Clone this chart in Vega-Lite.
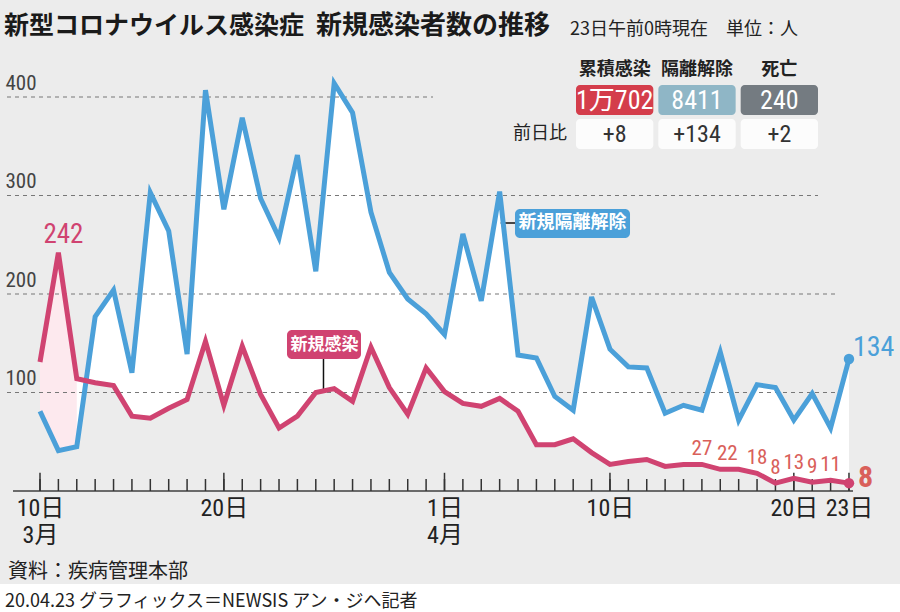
{
  "$schema": "https://vega.github.io/schema/vega-lite/v6.json",
  "width": 900,
  "height": 584,
  "autosize": {"type": "none"},
  "padding": {"left": 0, "top": 0, "right": 0, "bottom": 28},
  "background": "#ffffff",
  "config": {"view": {"fill": "#ececec", "stroke": null}},
  "datasets": {
    "table": [
      {"col": "累積感染", "row": "value", "text": "1万702"},
      {"col": "隔離解除", "row": "value", "text": "8411"},
      {"col": "死亡", "row": "value", "text": "240"},
      {"col": "累積感染", "row": "diff", "text": "+8"},
      {"col": "隔離解除", "row": "diff", "text": "+134"},
      {"col": "死亡", "row": "diff", "text": "+2"}
    ]
  },
  "resolve": {"scale": {"x": "independent", "y": "independent", "color": "independent"}},
  "layer": [
    {
      "data": {
        "values": [
          {"date": "2020-03-10", "cases": 131, "released": 81},
          {"date": "2020-03-11", "cases": 242, "released": 41},
          {"date": "2020-03-12", "cases": 114, "released": 45},
          {"date": "2020-03-13", "cases": 110, "released": 177},
          {"date": "2020-03-14", "cases": 107, "released": 204},
          {"date": "2020-03-15", "cases": 76, "released": 120},
          {"date": "2020-03-16", "cases": 74, "released": 303},
          {"date": "2020-03-17", "cases": 84, "released": 264},
          {"date": "2020-03-18", "cases": 93, "released": 139},
          {"date": "2020-03-19", "cases": 152, "released": 407},
          {"date": "2020-03-20", "cases": 87, "released": 286},
          {"date": "2020-03-21", "cases": 147, "released": 379},
          {"date": "2020-03-22", "cases": 98, "released": 297},
          {"date": "2020-03-23", "cases": 64, "released": 257},
          {"date": "2020-03-24", "cases": 76, "released": 341},
          {"date": "2020-03-25", "cases": 100, "released": 223},
          {"date": "2020-03-26", "cases": 104, "released": 414},
          {"date": "2020-03-27", "cases": 91, "released": 384},
          {"date": "2020-03-28", "cases": 146, "released": 283},
          {"date": "2020-03-29", "cases": 105, "released": 222},
          {"date": "2020-03-30", "cases": 78, "released": 195},
          {"date": "2020-03-31", "cases": 125, "released": 180},
          {"date": "2020-04-01", "cases": 101, "released": 159},
          {"date": "2020-04-02", "cases": 89, "released": 261},
          {"date": "2020-04-03", "cases": 86, "released": 193},
          {"date": "2020-04-04", "cases": 94, "released": 304},
          {"date": "2020-04-05", "cases": 81, "released": 138},
          {"date": "2020-04-06", "cases": 47, "released": 135},
          {"date": "2020-04-07", "cases": 47, "released": 96},
          {"date": "2020-04-08", "cases": 53, "released": 82},
          {"date": "2020-04-09", "cases": 39, "released": 197},
          {"date": "2020-04-10", "cases": 27, "released": 144},
          {"date": "2020-04-11", "cases": 30, "released": 126},
          {"date": "2020-04-12", "cases": 32, "released": 125},
          {"date": "2020-04-13", "cases": 25, "released": 79},
          {"date": "2020-04-14", "cases": 27, "released": 87},
          {"date": "2020-04-15", "cases": 27, "released": 82},
          {"date": "2020-04-16", "cases": 22, "released": 141},
          {"date": "2020-04-17", "cases": 22, "released": 72},
          {"date": "2020-04-18", "cases": 18, "released": 108},
          {"date": "2020-04-19", "cases": 8, "released": 105},
          {"date": "2020-04-20", "cases": 13, "released": 72},
          {"date": "2020-04-21", "cases": 9, "released": 99},
          {"date": "2020-04-22", "cases": 11, "released": 64},
          {"date": "2020-04-23", "cases": 8, "released": 134}
        ],
        "format": {"parse": {"date": "date"}}
      },
      "layer": [
        {
          "mark": {"type": "area", "color": "#ffffff", "opacity": 1},
          "encoding": {
            "x": {
              "field": "date", "type": "temporal",
              "scale": {
                "type": "utc", "nice": false,
                "domain": [
                  {"year": 2020, "month": 3, "date": 7, "hours": 19, "minutes": 47, "utc": true},
                  {"year": 2020, "month": 4, "date": 25, "hours": 18, "minutes": 36, "utc": true}
                ]
              },
              "axis": {
                "title": null, "orient": "bottom", "offset": -94,
                "domain": false, "ticks": false, "tickSize": 0, "grid": false,
                "values": [
                  {"year": 2020, "month": 3, "date": 10, "utc": true},
                  {"year": 2020, "month": 3, "date": 20, "utc": true},
                  {"year": 2020, "month": 4, "date": 1, "utc": true},
                  {"year": 2020, "month": 4, "date": 10, "utc": true},
                  {"year": 2020, "month": 4, "date": 20, "utc": true},
                  {"year": 2020, "month": 4, "date": 23, "utc": true}
                ],
                "labelExpr": "utcmonth(datum.value) == 2 && utcdate(datum.value) == 10 ? ['10日', '3月'] : (utcmonth(datum.value) == 3 && utcdate(datum.value) == 1 ? ['1日', '4月'] : utcdate(datum.value) + '日')",
                "labelBaseline": "top", "labelPadding": 6, "labelLineHeight": 27,
                "labelFont": "Roboto Condensed, DejaVu Sans Condensed, Liberation Sans Narrow, Noto Sans CJK JP, sans-serif",
                "labelFontSize": 24, "labelColor": "#222222",
                "labelOverlap": false, "labelFlush": false, "labelBound": false
              }
            },
            "y": {
              "field": "released", "type": "quantitative",
              "scale": {"domain": [-94.4, 498.5], "nice": false, "zero": false},
              "axis": {
                "title": null, "values": [100, 200, 300, 400],
                "domain": false, "ticks": false, "tickSize": 0, "grid": false,
                "labelAlign": "left", "labelBaseline": "alphabetic",
                "labelPadding": -5, "labelOffset": -8,
                "labelFont": "Roboto Condensed, DejaVu Sans Condensed, Liberation Sans Narrow, Noto Sans CJK JP, sans-serif",
                "labelFontSize": 21, "labelColor": "#444444"
              }
            },
            "y2": {"field": "cases"}
          }
        },
        {
          "transform": [{"filter": "datum.released < datum.cases"}],
          "mark": {"type": "area", "color": "#fde9ee", "opacity": 1},
          "encoding": {
            "x": {"field": "date", "type": "temporal"},
            "y": {"field": "cases", "type": "quantitative"},
            "y2": {"field": "released"}
          }
        },
        {
          "data": {"values": [{"v": 100}, {"v": 200}]},
          "mark": {"type": "rule", "color": "#777777", "strokeWidth": 1.2, "strokeDash": [4, 4]},
          "encoding": {
            "y": {"field": "v", "type": "quantitative"},
            "x": {"datum": {"year": 2020, "month": 3, "date": 8, "hours": 4, "minutes": 55, "utc": true}, "type": "temporal"},
            "x2": {"datum": {"year": 2020, "month": 4, "date": 22, "hours": 9, "minutes": 40, "utc": true}}
          }
        },
        {
          "data": {"values": [{"v": 300}]},
          "mark": {"type": "rule", "color": "#777777", "strokeWidth": 1.2, "strokeDash": [4, 4]},
          "encoding": {
            "y": {"field": "v", "type": "quantitative"},
            "x": {"datum": {"year": 2020, "month": 3, "date": 8, "hours": 4, "minutes": 55, "utc": true}, "type": "temporal"},
            "x2": {"datum": {"year": 2020, "month": 4, "date": 21, "hours": 7, "minutes": 34, "utc": true}}
          }
        },
        {
          "data": {"values": [{"v": 400}]},
          "mark": {"type": "rule", "color": "#777777", "strokeWidth": 1.2, "strokeDash": [4, 4]},
          "encoding": {
            "y": {"field": "v", "type": "quantitative"},
            "x": {"datum": {"year": 2020, "month": 3, "date": 8, "hours": 4, "minutes": 55, "utc": true}, "type": "temporal"},
            "x2": {"datum": {"year": 2020, "month": 3, "date": 31, "hours": 9, "minutes": 0, "utc": true}}
          }
        },
        {
          "data": {"values": [{}]},
          "mark": {"type": "rule", "color": "#6a6a6a", "strokeWidth": 2},
          "encoding": {
            "y": {"datum": 0},
            "x": {"datum": {"year": 2020, "month": 3, "date": 8, "hours": 12, "minutes": 45, "utc": true}, "type": "temporal"},
            "x2": {"datum": {"year": 2020, "month": 4, "date": 23, "hours": 5, "minutes": 14, "utc": true}}
          }
        },
        {
          "mark": {"type": "rule", "color": "#333333", "strokeWidth": 1.5},
          "encoding": {
            "x": {"field": "date", "type": "temporal"},
            "y": {"datum": 0},
            "y2": {"datum": 12.2}
          }
        },
        {
          "transform": [{"filter": "utcdate(datum.date) == 10 || utcdate(datum.date) == 20 || utcdate(datum.date) == 1 || (utcdate(datum.date) == 23 && utcmonth(datum.date) == 3)"}],
          "mark": {"type": "rule", "color": "#333333", "strokeWidth": 1.5},
          "encoding": {
            "x": {"field": "date", "type": "temporal"},
            "y": {"datum": 0},
            "y2": {"datum": 18.5}
          }
        },
        {
          "data": {"values": [{}]},
          "mark": {"type": "rule", "color": "#111111", "strokeWidth": 1.5},
          "encoding": {
            "x": {"datum": {"year": 2020, "month": 3, "date": 25, "hours": 10, "minutes": 3, "utc": true}, "type": "temporal"},
            "y": {"datum": 134},
            "y2": {"datum": 100.5}
          }
        },
        {
          "data": {"values": [{}]},
          "mark": {"type": "rule", "color": "#111111", "strokeWidth": 1.5},
          "encoding": {
            "x": {"datum": {"year": 2020, "month": 4, "date": 4, "hours": 1, "minutes": 22, "utc": true}, "type": "temporal"},
            "x2": {"datum": {"year": 2020, "month": 4, "date": 4, "hours": 20, "minutes": 2, "utc": true}},
            "y": {"datum": 272.1}
          }
        },
        {
          "mark": {"type": "line", "color": "#4ba0d9", "strokeWidth": 5},
          "encoding": {
            "x": {"field": "date", "type": "temporal"},
            "y": {"field": "released", "type": "quantitative"}
          }
        },
        {
          "mark": {"type": "line", "color": "#d04371", "strokeWidth": 5},
          "encoding": {
            "x": {"field": "date", "type": "temporal"},
            "y": {"field": "cases", "type": "quantitative"}
          }
        },
        {
          "data": {"values": [{}]},
          "mark": {"type": "rect", "color": "#d04371", "cornerRadius": 5},
          "encoding": {
            "x": {"datum": {"year": 2020, "month": 3, "date": 23, "hours": 10, "minutes": 25, "utc": true}, "type": "temporal"},
            "x2": {"datum": {"year": 2020, "month": 3, "date": 27, "hours": 11, "minutes": 1, "utc": true}},
            "y": {"datum": 163.5},
            "y2": {"datum": 134.0}
          }
        },
        {
          "data": {"values": [{}]},
          "mark": {"type": "text", "text": "新規感染", "color": "#ffffff", "font": "Noto Sans CJK JP", "fontWeight": "bold", "fontSize": 17, "baseline": "middle", "align": "center"},
          "encoding": {
            "x": {"datum": {"year": 2020, "month": 3, "date": 25, "hours": 11, "minutes": 22, "utc": true}, "type": "temporal"},
            "y": {"datum": 148.7}
          }
        },
        {
          "data": {"values": [{}]},
          "mark": {"type": "rect", "color": "#4ba0d9", "cornerRadius": 5},
          "encoding": {
            "x": {"datum": {"year": 2020, "month": 4, "date": 4, "hours": 20, "minutes": 2, "utc": true}, "type": "temporal"},
            "x2": {"datum": {"year": 2020, "month": 4, "date": 11, "hours": 2, "minutes": 10, "utc": true}},
            "y": {"datum": 286.3},
            "y2": {"datum": 256.9}
          }
        },
        {
          "data": {"values": [{}]},
          "mark": {"type": "text", "text": "新規隔離解除", "color": "#ffffff", "font": "Noto Sans CJK JP", "fontWeight": "bold", "fontSize": 18, "baseline": "middle", "align": "center"},
          "encoding": {
            "x": {"datum": {"year": 2020, "month": 4, "date": 7, "hours": 23, "minutes": 7, "utc": true}, "type": "temporal"},
            "y": {"datum": 271.6}
          }
        },
        {
          "transform": [{"filter": "datum.date >= utc(2020, 3, 23)"}],
          "mark": {"type": "circle", "color": "#4ba0d9", "size": 110, "opacity": 1},
          "encoding": {
            "x": {"field": "date", "type": "temporal"},
            "y": {"field": "released", "type": "quantitative"}
          }
        },
        {
          "transform": [{"filter": "datum.date >= utc(2020, 3, 23)"}],
          "mark": {"type": "circle", "color": "#d04371", "size": 110, "opacity": 1},
          "encoding": {
            "x": {"field": "date", "type": "temporal"},
            "y": {"field": "cases", "type": "quantitative"}
          }
        },
        {
          "transform": [{"filter": "datum.date >= utc(2020, 3, 23)"}],
          "mark": {"type": "text", "color": "#4ba0d9", "font": "Roboto Condensed, DejaVu Sans Condensed, Liberation Sans Narrow, Noto Sans CJK JP, sans-serif", "fontSize": 28, "align": "left", "baseline": "alphabetic", "dx": 4, "dy": -3},
          "encoding": {
            "x": {"field": "date", "type": "temporal"},
            "y": {"field": "released", "type": "quantitative"},
            "text": {"field": "released", "type": "quantitative"}
          }
        },
        {
          "transform": [{"filter": "datum.date >= utc(2020, 3, 23)"}],
          "mark": {"type": "text", "color": "#d9605a", "font": "Roboto Condensed, DejaVu Sans Condensed, Liberation Sans Narrow, Noto Sans CJK JP, sans-serif", "fontWeight": "bold", "fontSize": 30, "align": "left", "baseline": "alphabetic", "dx": 9, "dy": 4},
          "encoding": {
            "x": {"field": "date", "type": "temporal"},
            "y": {"field": "cases", "type": "quantitative"},
            "text": {"field": "cases", "type": "quantitative"}
          }
        },
        {
          "transform": [{"filter": "utcmonth(datum.date) == 2 && utcdate(datum.date) == 11"}],
          "mark": {"type": "text", "color": "#d04371", "font": "Roboto Condensed, DejaVu Sans Condensed, Liberation Sans Narrow, Noto Sans CJK JP, sans-serif", "fontSize": 27, "align": "center", "baseline": "alphabetic", "dx": 5, "dy": -10},
          "encoding": {
            "x": {"field": "date", "type": "temporal"},
            "y": {"field": "cases", "type": "quantitative"},
            "text": {"field": "cases", "type": "quantitative"}
          }
        },
        {
          "transform": [{"filter": "datum.date >= utc(2020, 3, 15) && datum.date <= utc(2020, 3, 22) && utcdate(datum.date) != 17 && utcdate(datum.date) != 16"}],
          "mark": {"type": "text", "color": "#d9605a", "font": "Roboto Condensed, DejaVu Sans Condensed, Liberation Sans Narrow, Noto Sans CJK JP, sans-serif", "fontSize": 21, "align": "center", "baseline": "alphabetic", "dy": -9},
          "encoding": {
            "x": {"field": "date", "type": "temporal"},
            "y": {"field": "cases", "type": "quantitative"},
            "text": {"field": "cases", "type": "quantitative"}
          }
        },
        {
          "transform": [{"filter": "utcmonth(datum.date) == 3 && utcdate(datum.date) == 16"}],
          "mark": {"type": "text", "color": "#d9605a", "font": "Roboto Condensed, DejaVu Sans Condensed, Liberation Sans Narrow, Noto Sans CJK JP, sans-serif", "fontSize": 21, "align": "center", "baseline": "alphabetic", "dx": 7, "dy": -9},
          "encoding": {
            "x": {"field": "date", "type": "temporal"},
            "y": {"field": "cases", "type": "quantitative"},
            "text": {"field": "cases", "type": "quantitative"}
          }
        },
        {
          "data": {"values": [{}]},
          "mark": {"type": "text", "text": "新型コロナウイルス感染症", "color": "#1a1a1a", "font": "Noto Sans CJK JP", "fontWeight": "bold", "fontSize": 25, "align": "left", "baseline": "alphabetic"},
          "encoding": {
            "x": {"datum": {"year": 2020, "month": 3, "date": 8, "hours": 1, "minutes": 0, "utc": true}, "type": "temporal"},
            "y": {"datum": 464.0}
          }
        },
        {
          "data": {"values": [{}]},
          "mark": {"type": "text", "text": "新規感染者数の推移", "color": "#1a1a1a", "font": "Noto Sans CJK JP", "fontWeight": "bold", "fontSize": 26, "align": "left", "baseline": "alphabetic"},
          "encoding": {
            "x": {"datum": {"year": 2020, "month": 3, "date": 25, "hours": 0, "minutes": 16, "utc": true}, "type": "temporal"},
            "y": {"datum": 464.0}
          }
        },
        {
          "data": {"values": [{}]},
          "mark": {"type": "text", "text": "23日午前0時現在　単位：人", "color": "#222222", "font": "Noto Sans CJK JP", "fontSize": 18, "align": "left", "baseline": "alphabetic"},
          "encoding": {
            "x": {"datum": {"year": 2020, "month": 4, "date": 7, "hours": 19, "minutes": 49, "utc": true}, "type": "temporal"},
            "y": {"datum": 463.0}
          }
        },
        {
          "data": {"values": [{}]},
          "mark": {"type": "text", "text": "資料：疾病管理本部", "color": "#222222", "font": "Noto Sans CJK JP", "fontSize": 20, "align": "left", "baseline": "alphabetic"},
          "encoding": {
            "x": {"datum": {"year": 2020, "month": 3, "date": 8, "hours": 6, "minutes": 14, "utc": true}, "type": "temporal"},
            "y": {"datum": -88.3}
          }
        },
        {
          "data": {"values": [{}]},
          "mark": {"type": "text", "text": "20.04.23 グラフィックス＝NEWSIS アン・ジヘ記者", "color": "#222222", "font": "Noto Sans CJK JP", "fontSize": 18, "align": "left", "baseline": "alphabetic"},
          "encoding": {
            "x": {"datum": {"year": 2020, "month": 3, "date": 8, "hours": 2, "minutes": 19, "utc": true}, "type": "temporal"},
            "y": {"datum": -117.8}
          }
        }
      ]
    },
    {
      "data": {"name": "table"},
      "encoding": {
        "x": {
          "field": "col", "type": "nominal", "axis": null,
          "scale": {"type": "band", "domain": ["累積感染", "隔離解除", "死亡"], "range": [576, 818], "paddingInner": 0.061, "paddingOuter": 0}
        },
        "y": {
          "field": "row", "type": "nominal", "axis": null,
          "scale": {"type": "band", "domain": ["header", "value", "diff"], "range": [51, 149], "paddingInner": 0.118, "paddingOuter": 0}
        }
      },
      "layer": [
        {
          "transform": [{"filter": "datum.row == 'value'"}],
          "mark": {"type": "rect", "cornerRadius": 4},
          "encoding": {
            "color": {"field": "col", "type": "nominal", "legend": null,
              "scale": {"domain": ["累積感染", "隔離解除", "死亡"], "range": ["#d43d4b", "#8fb6c6", "#747b81"]}}
          }
        },
        {
          "transform": [{"filter": "datum.row == 'diff'"}],
          "mark": {"type": "rect", "cornerRadius": 4, "color": "#fcfcfc"}
        },
        {
          "transform": [{"filter": "datum.row == 'value'"}],
          "mark": {"type": "text", "color": "#ffffff", "font": "Roboto Condensed, DejaVu Sans Condensed, Liberation Sans Narrow, Noto Sans CJK JP, sans-serif", "fontSize": 26, "baseline": "middle", "dy": 1},
          "encoding": {"text": {"field": "text", "type": "nominal"}}
        },
        {
          "transform": [{"filter": "datum.row == 'diff'"}],
          "mark": {"type": "text", "color": "#333333", "font": "Roboto Condensed, DejaVu Sans Condensed, Liberation Sans Narrow, Noto Sans CJK JP, sans-serif", "fontSize": 24, "baseline": "middle", "dy": 1},
          "encoding": {"text": {"field": "text", "type": "nominal"}}
        },
        {
          "transform": [{"filter": "datum.row == 'value'"}],
          "mark": {"type": "text", "color": "#222222", "font": "Noto Sans CJK JP", "fontWeight": "bold", "fontSize": 18, "baseline": "middle", "dy": 4},
          "encoding": {
            "y": {"datum": "header", "type": "nominal"},
            "text": {"field": "col", "type": "nominal"}
          }
        },
        {
          "transform": [{"filter": "datum.row == 'diff' && datum.col == '累積感染'"}],
          "mark": {"type": "text", "text": "前日比", "color": "#222222", "font": "Noto Sans CJK JP", "fontSize": 18, "align": "right", "baseline": "middle", "dx": -9},
          "encoding": {
            "x": {"field": "col", "type": "nominal", "bandPosition": 0}
          }
        }
      ]
    }
  ]
}
